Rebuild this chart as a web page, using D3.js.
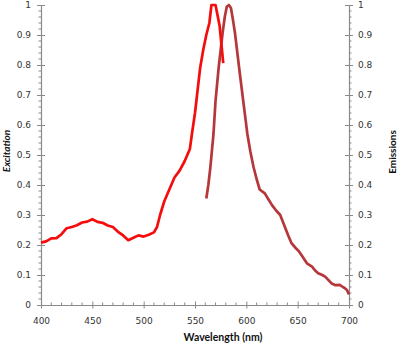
<!DOCTYPE html>
<html>
<head>
<meta charset="utf-8">
<script src="https://cdn.jsdelivr.net/npm/d3@7"></script>
<style>
  html, body { margin: 0; padding: 0; background: #fff; }
  svg { display: block; }
  .tick text { font-family: "DejaVu Sans", Verdana, sans-serif; font-size: 9px; fill: #333; }
  .title { font-family: Lato, "Open Sans", sans-serif; font-weight: bold; fill: #111; }
</style>
</head>
<body>
<svg id="chart" width="400" height="345"></svg>
<script>
// Excitation spectrum (wavelength nm, normalised intensity)
const excitationNm = [400,405,410,415,420,425,430,435,440,445,450,455,460,465,470,475,480,485,490,495,500,505,510,513,516,520,525,530,535,540,545,547,550,552,555,558,561,564,566,570,574,577.5];
const excitationVal = [0.208,0.212,0.222,0.223,0.236,0.256,0.260,0.266,0.275,0.278,0.286,0.277,0.274,0.265,0.260,0.244,0.232,0.216,0.224,0.232,0.228,0.234,0.242,0.26,0.30,0.345,0.385,0.425,0.448,0.48,0.52,0.57,0.64,0.70,0.79,0.85,0.90,0.94,1.0,1.0,0.93,0.806];

// Emission spectrum
const emissionNm = [561,563,565,568,570,573,575,577,579,581,583,585,587,589,593,597,601,604,607,610,613,618,621,625,629,633,637,641,644,648,651,655,659,664,667,670,674,677,680,683,687,691,694,696,698,700];
const emissionVal = [0.355,0.40,0.46,0.57,0.68,0.79,0.85,0.91,0.96,0.995,1.0,0.99,0.95,0.905,0.79,0.68,0.57,0.51,0.46,0.42,0.385,0.372,0.355,0.333,0.315,0.30,0.265,0.23,0.206,0.19,0.18,0.16,0.139,0.128,0.115,0.106,0.10,0.094,0.083,0.072,0.066,0.067,0.06,0.056,0.05,0.035];

const xTicks = [400,450,500,550,600,650,700];
const yTicks = [0,0.1,0.2,0.3,0.4,0.5,0.6,0.7,0.8,0.9,1];

const svg = d3.select("#chart");
const plotLeft = 41, plotRight = 349, plotTop = 5, plotBottom = 305;
const axisColor = "#8a8a8a";

const x = d3.scaleLinear().domain([400, 700]).range([plotLeft, plotRight]);
const yL = d3.scaleLinear().domain([0, 1]).range([plotBottom, plotTop]);
const yR = d3.scaleLinear().domain([0, 1]).range([plotBottom, plotTop]);

const fmt = d => d === 0 || d === 1 ? String(d) : d3.format(".1f")(d);

// minor ticks
const gMinor = svg.append("g").attr("stroke", axisColor).attr("stroke-width", 1);
d3.range(410, 700, 10).filter(v => v % 50 !== 0).forEach(v => {
  gMinor.append("line").attr("x1", x(v)).attr("x2", x(v)).attr("y1", plotBottom).attr("y2", plotBottom - 2.5);
});
d3.range(1, 50).filter(i => i % 5 !== 0).forEach(i => {
  const v = i / 50;
  gMinor.append("line").attr("x1", plotLeft - 2.5).attr("x2", plotLeft).attr("y1", yL(v)).attr("y2", yL(v));
  gMinor.append("line").attr("x1", plotRight).attr("x2", plotRight + 2.5).attr("y1", yR(v)).attr("y2", yR(v));
});

function styleAxis(g) {
  g.select(".domain").attr("stroke", axisColor).attr("stroke-width", 1.2);
  g.selectAll(".tick line").attr("stroke", axisColor).attr("stroke-width", 1);
}

// x axis (major ticks cross the line)
const gx = svg.append("g").attr("transform", `translate(0,${plotBottom})`)
  .call(d3.axisBottom(x).tickValues(xTicks).tickSize(3.5).tickSizeOuter(0).tickPadding(9));
gx.selectAll(".tick line").attr("y1", -3.5);
styleAxis(gx);

const gyL = svg.append("g").attr("transform", `translate(${plotLeft},0)`)
  .call(d3.axisLeft(yL).tickValues(yTicks).tickFormat(fmt).tickSize(4).tickSizeOuter(0).tickPadding(6));
gyL.selectAll(".tick line").attr("x1", 4);
styleAxis(gyL);

const gyR = svg.append("g").attr("transform", `translate(${plotRight},0)`)
  .call(d3.axisRight(yR).tickValues(yTicks).tickFormat(fmt).tickSize(4).tickSizeOuter(0).tickPadding(5));
gyR.selectAll(".tick line").attr("x1", -4);
styleAxis(gyR);

// spectra
const lineEx = d3.line().x((d, i) => x(excitationNm[i])).y(d => yL(d)).curve(d3.curveLinear);
const lineEm = d3.line().x((d, i) => x(emissionNm[i])).y(d => yR(d)).curve(d3.curveLinear);

svg.append("path").datum(emissionVal).attr("d", lineEm)
  .attr("fill", "none").attr("stroke", "#b5373a").attr("stroke-width", 2.7).attr("stroke-linejoin", "round");
svg.append("path").datum(excitationVal).attr("d", lineEx)
  .attr("fill", "none").attr("stroke", "#f50d0d").attr("stroke-width", 2.7).attr("stroke-linejoin", "round");

// axis titles
svg.append("text").attr("class", "title").attr("x", 223).attr("y", 341)
  .attr("text-anchor", "middle").attr("font-size", 10.5).text("Wavelength (nm)");
svg.append("text").attr("class", "title").attr("transform", "translate(10,151) rotate(-90)")
  .attr("text-anchor", "middle").attr("font-size", 10).attr("font-style", "italic").text("Excitation");
svg.append("text").attr("class", "title").attr("transform", "translate(396,152) rotate(-90)")
  .attr("text-anchor", "middle").attr("font-size", 10).text("Emissions");
</script>
</body>
</html>
